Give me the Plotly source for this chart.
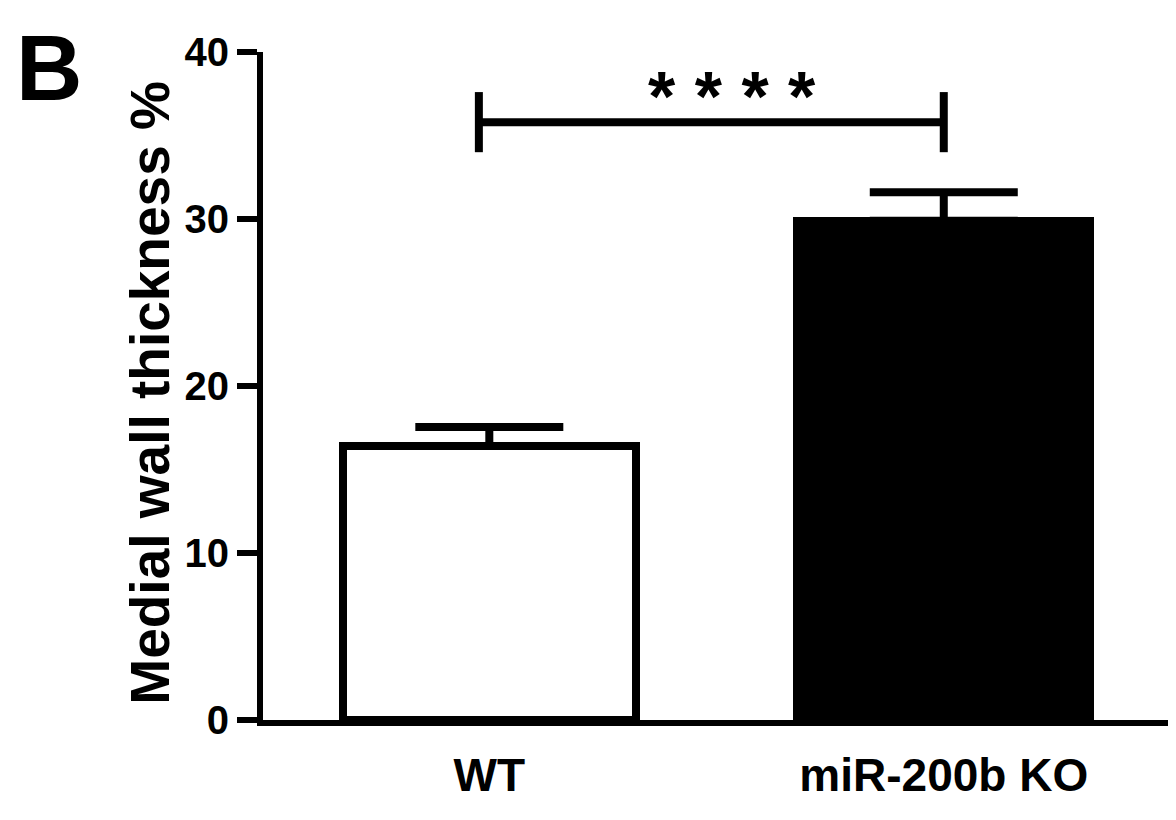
import plotly.graph_objects as go

categories = ["WT", "miR-200b KO"]
cat_pos = [0, 1]
means = [16.4, 29.9]
sem = [1.15, 1.7]
bar_fill = ["white", "black"]
y_ticks = [0, 10, 20, 30, 40]
y_range = [0, 40]
sig_text = "* * * *"
sig_y = 35.8
sig_tick_low = 34.0
sig_tick_high = 37.6
panel_label = "B"
y_title = "Medial wall thickness %"

FONT = "Liberation Sans, Arial, Helvetica, sans-serif"

fig = go.Figure()
fig.add_trace(go.Bar(
    x=cat_pos, y=means, width=0.645,
    marker=dict(color=bar_fill, line=dict(color="black", width=8)),
    error_y=dict(type="data", array=sem, arrayminus=[0, 0], symmetric=False,
                 color="black", thickness=8, width=74),
    showlegend=False, hoverinfo="skip",
))

# significance bracket
bx0, bx1 = cat_pos[0] - 0.023, cat_pos[1]
for shp in [
    dict(x0=bx0, x1=bx1, y0=sig_y, y1=sig_y),
    dict(x0=bx0, x1=bx0, y0=sig_tick_low, y1=sig_tick_high),
    dict(x0=bx1, x1=bx1, y0=sig_tick_low, y1=sig_tick_high),
]:
    fig.add_shape(type="line", xref="x", yref="y", line=dict(color="black", width=8), **shp)

fig.add_annotation(x=0.535, y=sig_y - 0.95, xref="x", yref="y", text=sig_text,
                   showarrow=False, yanchor="bottom",
                   font=dict(family=FONT, size=70, color="black", weight="bold"))

fig.add_annotation(x=-0.1238, y=0.49, xref="paper", yref="paper", text=y_title,
                   textangle=-90, showarrow=False, xanchor="center", yanchor="middle",
                   font=dict(family=FONT, size=55, color="black", weight="bold"))

fig.add_annotation(x=-0.2344, y=1.055, xref="paper", yref="paper", text=panel_label,
                   showarrow=False, xanchor="center", yanchor="top",
                   font=dict(family=FONT, size=92, color="black", weight="bold"))

fig.update_layout(
    width=1168, height=812,
    margin=dict(l=255, r=0, t=44, b=100),
    paper_bgcolor="white", plot_bgcolor="white",
    bargap=0,
)
fig.update_xaxes(
    range=[-0.498, 1.511], tickvals=cat_pos, ticktext=categories,
    showline=True, linecolor="black", linewidth=6, ticks="", showgrid=False,
    zeroline=False, ticklabelstandoff=10,
    tickfont=dict(family=FONT, size=46, color="black", weight="bold"),
)
fig.update_yaxes(
    range=y_range, tickvals=y_ticks, showline=True, linecolor="black", linewidth=6,
    ticks="outside", ticklen=20, tickwidth=6, tickcolor="black",
    showgrid=False, zeroline=False,
    tickfont=dict(family=FONT, size=40, color="black", weight="bold"),
)

fig.write_html("out.html")
